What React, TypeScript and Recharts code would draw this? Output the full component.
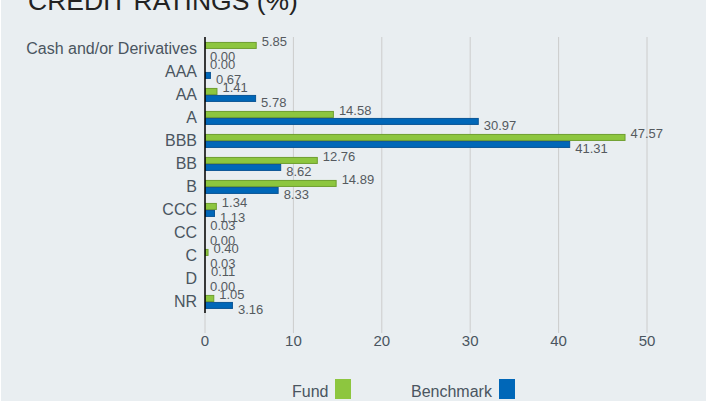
import { BarChart, Bar, XAxis, YAxis, CartesianGrid } from 'recharts';

const categories = [
  'Cash and/or Derivatives',
  'AAA',
  'AA',
  'A',
  'BBB',
  'BB',
  'B',
  'CCC',
  'CC',
  'C',
  'D',
  'NR',
];
const fundValues = [5.85, 0.0, 1.41, 14.58, 47.57, 12.76, 14.89, 1.34, 0.03, 0.4, 0.11, 1.05];
const benchmarkValues = [0.0, 0.67, 5.78, 30.97, 41.31, 8.62, 8.33, 1.13, 0.0, 0.03, 0.0, 3.16];
const xTicks = [0, 10, 20, 30, 40, 50];

const series = [
  { key: 'fund', name: 'Fund', fill: '#8dc63f', stroke: '#6f9f2f', dy: -3.5 },
  { key: 'benchmark', name: 'Benchmark', fill: '#0067b8', stroke: '#0b5596', dy: 4.5 },
];

const data = categories.map((name, i) => ({
  name,
  fund: fundValues[i],
  benchmark: benchmarkValues[i],
}));

const FONT = '"Liberation Sans", Arial, Helvetica, sans-serif';
const TEXT = '#4a5560';

// bar rect + its value label, so zero-width bars still get "0.00"
function makeShape(key: string, fill: string, stroke: string, dy: number) {
  return (props: any) => {
    const x = Number(props.x);
    const y = Number(props.y);
    const w = Math.max(0, Number(props.width) || 0);
    const h = Number(props.height);
    const v = props.payload ? props.payload[key] : 0;
    return (
      <g>
        {w > 0 && (
          <rect x={x + 0.5} y={y + 0.5} width={Math.max(0, w - 1)} height={h - 1} fill={fill} stroke={stroke} strokeWidth={1} />
        )}
        <text
          x={x + w + 5}
          y={y + h / 2 + dy}
          dy="0.35em"
          fontSize={13}
          fill="#555a5f"
          fontFamily={FONT}
        >
          {Number(v).toFixed(2)}
        </text>
      </g>
    );
  };
}

export default function App() {
  return (
    <div
      style={{
        position: 'fixed',
        left: 0,
        top: 0,
        width: 708,
        height: 401,
        background: '#ffffff',
        fontFamily: FONT,
        overflow: 'hidden',
      }}
    >
      <div style={{ position: 'absolute', left: 1, top: 0, width: 705, height: 401, background: '#e9eef1' }} />
      <div
        style={{
          position: 'absolute',
          left: 28,
          top: -12.5,
          fontSize: 26.5,
          lineHeight: '26px',
          color: '#222',
          whiteSpace: 'nowrap',
        }}
      >
        CREDIT RATINGS (%)
      </div>
      <div style={{ position: 'absolute', left: 0, top: 0 }}>
        <BarChart
          width={708}
          height={401}
          data={data}
          layout="vertical"
          margin={{ top: 37, right: 61, left: 0, bottom: 58 }}
          barCategoryGap="21.5%"
          barGap={0}
        >
          <CartesianGrid horizontal={false} vertical stroke="#cccccc" />
          <XAxis
            type="number"
            domain={[0, 50]}
            ticks={xTicks}
            axisLine={false}
            tickLine={{ stroke: '#cccccc' }}
            tickSize={20}
            tickMargin={2}
            height={30}
            tick={{ fontSize: 15, fill: TEXT, fontFamily: FONT }}
          />
          <YAxis
            type="category"
            dataKey="name"
            width={205}
            axisLine={{ stroke: '#000000', strokeWidth: 1.5 }}
            tickLine={false}
            tick={{ fontSize: 16, fill: TEXT, fontFamily: FONT }}
            interval={0}
          />
          {series.map((s) => (
            <Bar
              key={s.key}
              dataKey={s.key}
              name={s.name}
              fill={s.fill}
              isAnimationActive={false}
              shape={makeShape(s.key, s.fill, s.stroke, s.dy)}
            />
          ))}
        </BarChart>
      </div>
      <div style={{ position: 'absolute', left: 292, top: 381.5, fontSize: 16, color: TEXT, lineHeight: '20px' }}>
        {series[0].name}
      </div>
      <div style={{ position: 'absolute', left: 335, top: 379, width: 16, height: 20, background: series[0].fill }} />
      <div style={{ position: 'absolute', left: 411, top: 381.5, fontSize: 16, color: TEXT, lineHeight: '20px' }}>
        {series[1].name}
      </div>
      <div style={{ position: 'absolute', left: 499, top: 379, width: 16, height: 20, background: series[1].fill }} />
    </div>
  );
}
